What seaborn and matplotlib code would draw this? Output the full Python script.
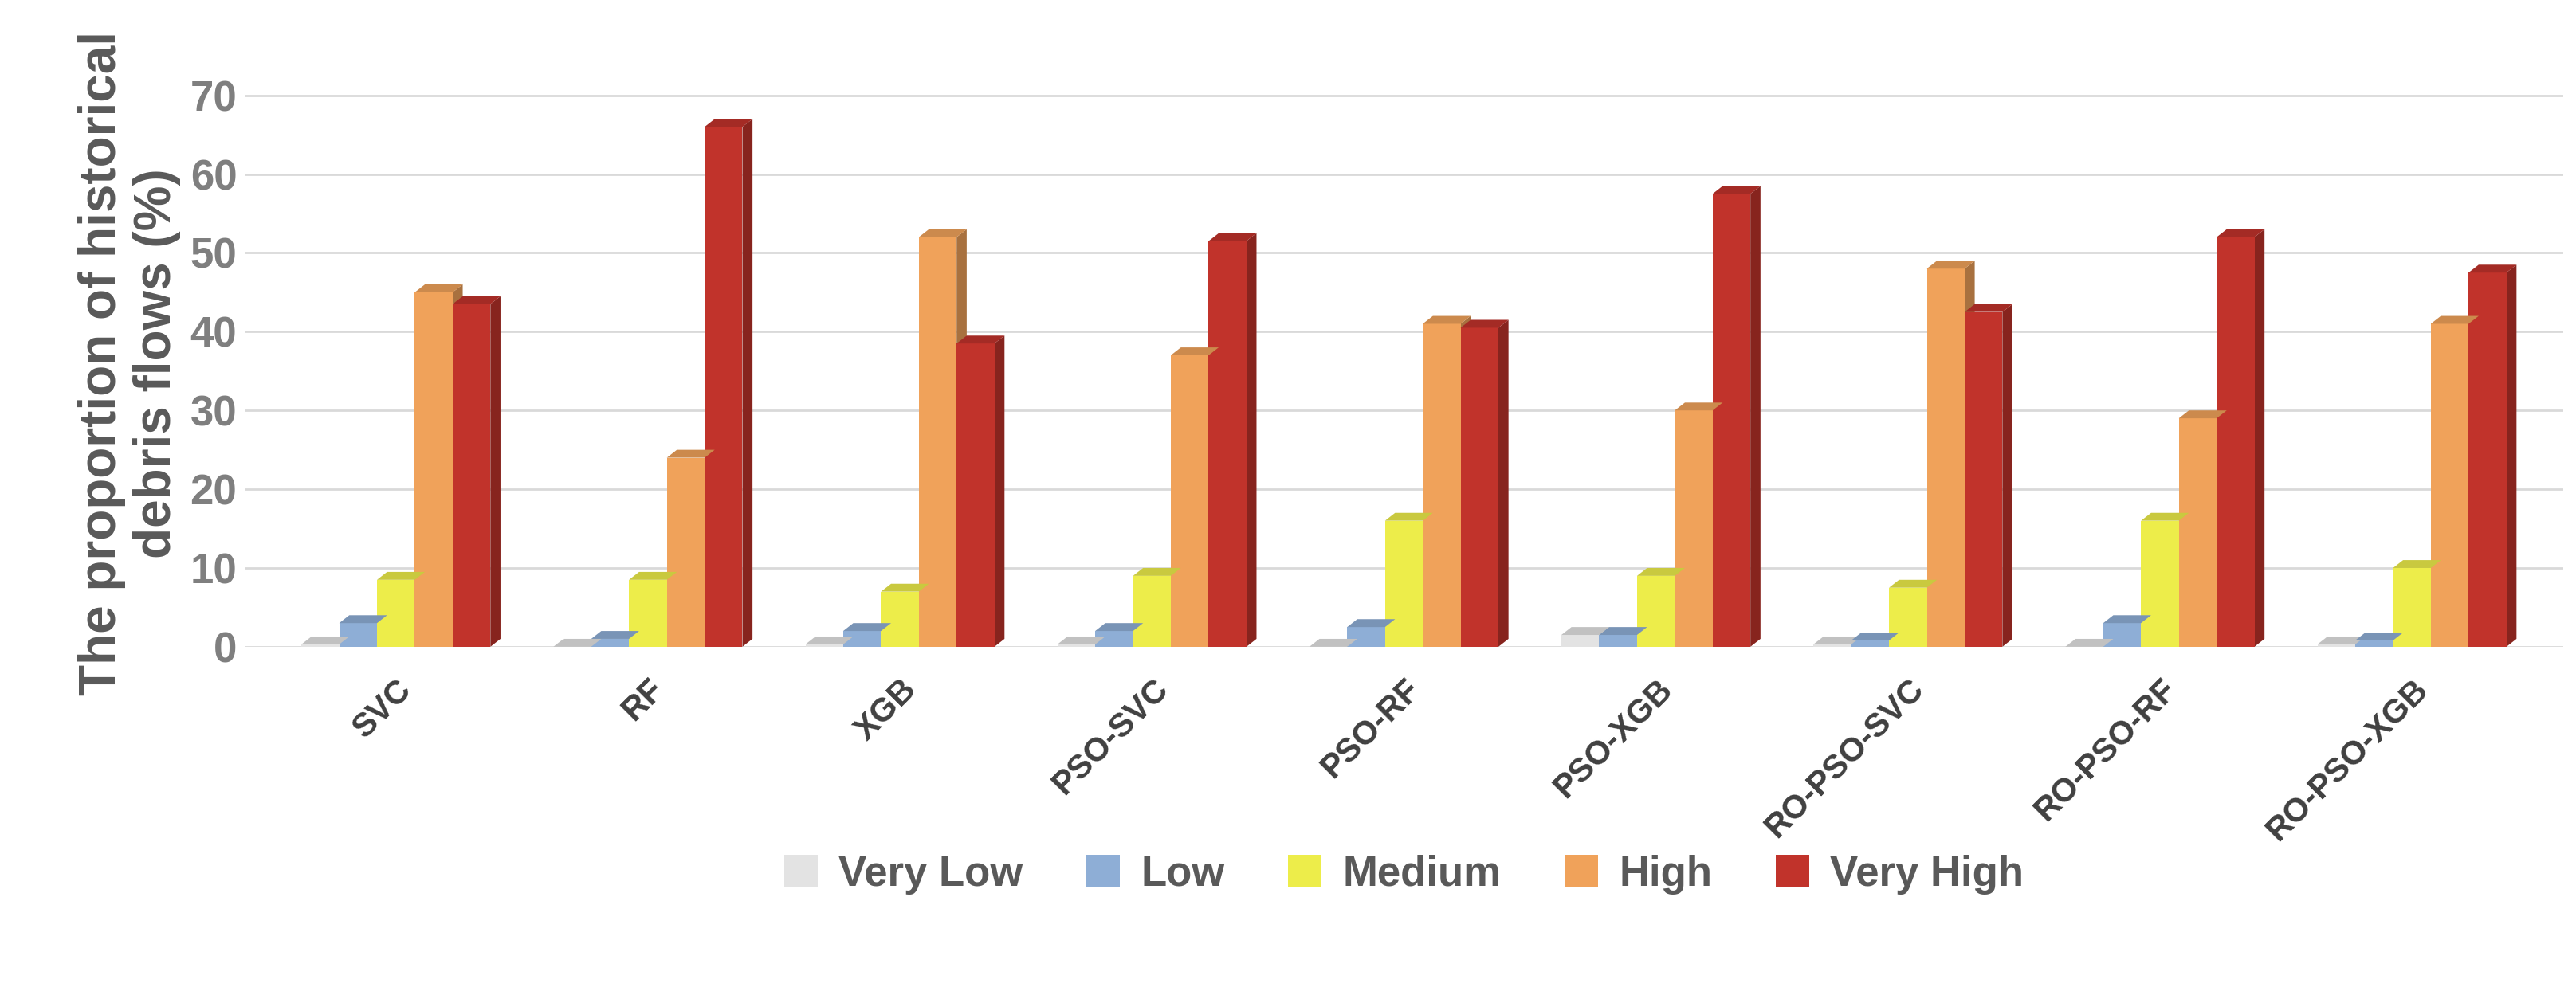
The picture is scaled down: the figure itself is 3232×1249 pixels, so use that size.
import numpy as np
import pandas as pd
import matplotlib
matplotlib.use("Agg")
import matplotlib.pyplot as plt
import matplotlib.colors as mcolors
from matplotlib.patches import Polygon
import seaborn as sns

models = ["SVC", "RF", "XGB", "PSO-SVC", "PSO-RF", "PSO-XGB",
          "RO-PSO-SVC", "RO-PSO-RF", "RO-PSO-XGB"]
classes = ["Very Low", "Low", "Medium", "High", "Very High"]
very_low = [0.3, 0.0, 0.3, 0.3, 0.0, 1.5, 0.3, 0.0, 0.3]
low = [3.0, 1.0, 2.0, 2.0, 2.5, 1.5, 0.8, 3.0, 0.8]
medium = [8.5, 8.5, 7.0, 9.0, 16.0, 9.0, 7.5, 16.0, 10.0]
high = [45.0, 24.0, 52.0, 37.0, 41.0, 30.0, 48.0, 29.0, 41.0]
very_high = [43.5, 66.0, 38.5, 51.5, 40.5, 57.5, 42.5, 52.0, 47.5]
colors = ["#e3e3e3", "#8eaed6", "#eded4a", "#f0a25a", "#c1332b"]

df = pd.DataFrame({"model": models * 5,
                   "cls": sum([[c] * len(models) for c in classes], []),
                   "value": very_low + low + medium + high + very_high})

sns.set_style("white")
plt.rcParams['font.family'] = ['Liberation Sans', 'DejaVu Sans']
fig, ax = plt.subplots(figsize=(16.16, 6.245), dpi=200)
for y in range(0, 80, 10):
    ax.axhline(y, color="#d9d9d9", lw=1, zorder=0)

sns.barplot(data=df, x="model", y="value", hue="cls", palette=colors,
            saturation=1, linewidth=0, width=0.75, ax=ax, legend=True, zorder=3)

# fake 3D depth faces derived from bar patches
dx, dy = 0.04, 1.0
for p in list(ax.patches):
    if p.get_width() == 0 or not hasattr(p, "get_x"):
        continue
    x0, w, h = p.get_x(), p.get_width(), p.get_height()
    c = np.array(mcolors.to_rgb(p.get_facecolor()))
    side = Polygon([(x0 + w, 0), (x0 + w + dx, dy), (x0 + w + dx, h + dy), (x0 + w, h)],
                   closed=True, color=c * 0.7, zorder=2, lw=0)
    top = Polygon([(x0, h), (x0 + dx, h + dy), (x0 + w + dx, h + dy), (x0 + w, h)],
                  closed=True, color=c * 0.85, zorder=4, lw=0)
    ax.add_patch(side)
    ax.add_patch(top)

ax.set_ylim(0, 72)
ax.set_yticks(range(0, 80, 10))
ax.set_xlim(-0.6, 8.6)
for s in ax.spines.values():
    s.set_visible(False)
ax.set_xlabel("")
ax.set_ylabel("The proportion of historical\ndebris flows (%)", fontsize=23,
              fontweight="bold", color="#595959")
ax.tick_params(axis="y", labelsize=19, colors="#7f7f7f", length=0)
for t in ax.get_yticklabels():
    t.set_fontweight("bold")
ax.set_xticks(range(len(models)))
ax.set_xticklabels(models, rotation=45, ha="right", rotation_mode="anchor",
                   fontsize=15, fontweight="bold", color="#404040")
ax.tick_params(axis="x", length=0, pad=12)
ax.legend(loc="upper center", bbox_to_anchor=(0.5, -0.3), ncol=5, frameon=False,
          prop={"size": 19, "weight": "bold"}, labelcolor="#595959",
          handlelength=0.8, handleheight=0.8, columnspacing=1.5, handletextpad=0.5)
plt.subplots_adjust(left=0.095, right=0.995, top=0.92, bottom=0.35)
fig.savefig("out.png")
